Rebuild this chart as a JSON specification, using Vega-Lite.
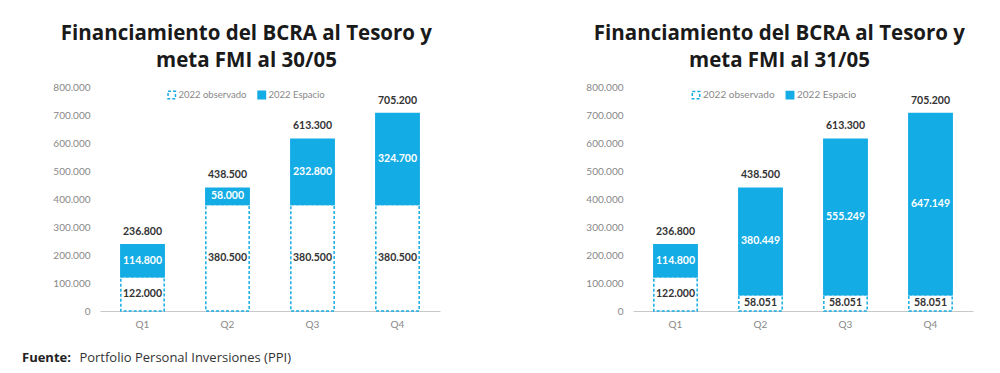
{
  "$schema": "https://vega.github.io/schema/vega-lite/v6.json",
  "padding": {"left": 22, "top": 23, "right": 10, "bottom": 5},
  "background": "white",
  "config": {
    "locale": {"number": {"decimal": ",", "thousands": ".", "grouping": [3], "currency": ["$", ""]}},
    "view": {"stroke": null},
    "font": "Lato",
    "axisY": {"labelOverlap": false, "title": null, "format": ",.0f", "values": [0, 100000, 200000, 300000, 400000, 500000, 600000, 700000, 800000], "grid": false, "ticks": false, "domain": false, "labelColor": "#888888", "labelFontSize": 10, "labelPadding": 10},
    "title": {"font": "Open Sans", "fontSize": 20.5, "fontWeight": "bold", "color": "#1a1a1a", "lineHeight": 27, "frame": "bounds", "anchor": "middle", "offset": 11},
    "concat": {"spacing": 145}
  },
  "resolve": {
    "scale": {"fill": "independent", "stroke": "independent", "strokeDash": "independent"},
    "legend": {"fill": "independent", "stroke": "independent", "strokeDash": "independent"}
  },
  "datasets": {
    "p30": [
      {"q": "Q1", "serie": "2022 observado", "orden": 1, "valor": 122000},
      {"q": "Q1", "serie": "2022 Espacio", "orden": 2, "valor": 114800},
      {"q": "Q2", "serie": "2022 observado", "orden": 1, "valor": 380500},
      {"q": "Q2", "serie": "2022 Espacio", "orden": 2, "valor": 58000},
      {"q": "Q3", "serie": "2022 observado", "orden": 1, "valor": 380500},
      {"q": "Q3", "serie": "2022 Espacio", "orden": 2, "valor": 232800},
      {"q": "Q4", "serie": "2022 observado", "orden": 1, "valor": 380500},
      {"q": "Q4", "serie": "2022 Espacio", "orden": 2, "valor": 324700}
    ],
    "p31": [
      {"q": "Q1", "serie": "2022 observado", "orden": 1, "valor": 122000},
      {"q": "Q1", "serie": "2022 Espacio", "orden": 2, "valor": 114800},
      {"q": "Q2", "serie": "2022 observado", "orden": 1, "valor": 58051},
      {"q": "Q2", "serie": "2022 Espacio", "orden": 2, "valor": 380449},
      {"q": "Q3", "serie": "2022 observado", "orden": 1, "valor": 58051},
      {"q": "Q3", "serie": "2022 Espacio", "orden": 2, "valor": 555249},
      {"q": "Q4", "serie": "2022 observado", "orden": 1, "valor": 58051},
      {"q": "Q4", "serie": "2022 Espacio", "orden": 2, "valor": 647149}
    ]
  },
  "title": {
    "text": "Fuente:",
    "subtitle": "\u200b\u00a0\u00a0\u00a0\u00a0\u00a0\u00a0\u00a0\u00a0\u00a0\u00a0\u00a0\u00a0\u00a0\u00a0\u00a0\u00a0\u00a0Portfolio Personal Inversiones (PPI)",
    "orient": "bottom",
    "anchor": "start",
    "frame": "group",
    "dx": -78,
    "font": "Open Sans",
    "fontSize": 13,
    "fontWeight": "bold",
    "color": "#222222",
    "subtitleFont": "Open Sans",
    "subtitleFontSize": 13,
    "subtitleColor": "#333333",
    "subtitlePadding": -13,
    "offset": 23
  },
  "hconcat": [
    {
      "width": 340,
      "height": 224,
      "title": {"text": ["Financiamiento del BCRA al Tesoro y", "meta FMI al 30/05"]},
      "data": {"name": "p30"},
      "transform": [
        {"stack": "valor", "groupby": ["q"], "sort": [{"field": "orden", "order": "ascending"}], "as": ["v0", "v1"]},
        {"calculate": "(datum.v0 + datum.v1) / 2", "as": "vm"}
      ],
      "encoding": {
        "x": {"field": "q", "type": "nominal", "scale": {"paddingInner": 0.49, "paddingOuter": 0.245},
          "axis": {"title": null, "labelAngle": 0, "ticks": false, "domainColor": "#c8c8c8", "labelColor": "#888888", "labelFontSize": 10, "labelPadding": 8}}
      },
      "layer": [
        {
          "mark": {"type": "bar", "strokeWidth": 1.5},
          "encoding": {
            "y": {"field": "v1", "type": "quantitative", "scale": {"domain": [0, 800000]}},
            "y2": {"field": "v0"},
            "fill": {"field": "serie", "type": "nominal", "scale": {"domain": ["2022 observado", "2022 Espacio"], "range": ["#ffffff", "#14ACE4"]},
              "legend": {"title": null, "orient": "none", "legendX": 67, "legendY": 3, "direction": "horizontal", "symbolType": "square", "symbolSize": 55, "symbolStrokeWidth": 1.5, "labelFontSize": 9.5, "labelColor": "#888888", "columnPadding": 8, "labelOffset": 2}},
            "stroke": {"field": "serie", "type": "nominal", "scale": {"domain": ["2022 observado", "2022 Espacio"], "range": ["#14ACE4", "#14ACE4"]}},
            "strokeDash": {"field": "serie", "type": "nominal", "scale": {"domain": ["2022 observado", "2022 Espacio"], "range": [[3, 2], [1, 0]]}},
            "order": {"field": "orden"}
          }
        },
        {
          "mark": {"type": "text", "fontWeight": "bold", "fontSize": 10.5, "baseline": "middle"},
          "encoding": {
            "y": {"field": "vm", "type": "quantitative"},
            "text": {"field": "valor", "type": "quantitative", "format": ",.0f"},
            "color": {"condition": {"test": "datum.orden == 1", "value": "#333333"}, "value": "#ffffff"}
          }
        },
        {
          "transform": [{"aggregate": [{"op": "sum", "field": "valor", "as": "total"}], "groupby": ["q"]}],
          "mark": {"type": "text", "fontWeight": "bold", "fontSize": 10.5, "baseline": "bottom", "dy": -8, "color": "#333333"},
          "encoding": {
            "y": {"field": "total", "type": "quantitative"},
            "text": {"field": "total", "type": "quantitative", "format": ",.0f"}
          }
        }
      ]
    },
    {
      "width": 340,
      "height": 224,
      "title": {"text": ["Financiamiento del BCRA al Tesoro y", "meta FMI al 31/05"]},
      "data": {"name": "p31"},
      "transform": [
        {"stack": "valor", "groupby": ["q"], "sort": [{"field": "orden", "order": "ascending"}], "as": ["v0", "v1"]},
        {"calculate": "(datum.v0 + datum.v1) / 2", "as": "vm"}
      ],
      "encoding": {
        "x": {"field": "q", "type": "nominal", "scale": {"paddingInner": 0.49, "paddingOuter": 0.245},
          "axis": {"title": null, "labelAngle": 0, "ticks": false, "domainColor": "#c8c8c8", "labelColor": "#888888", "labelFontSize": 10, "labelPadding": 8}}
      },
      "layer": [
        {
          "mark": {"type": "bar", "strokeWidth": 1.5},
          "encoding": {
            "y": {"field": "v1", "type": "quantitative", "scale": {"domain": [0, 800000]}},
            "y2": {"field": "v0"},
            "fill": {"field": "serie", "type": "nominal", "scale": {"domain": ["2022 observado", "2022 Espacio"], "range": ["#ffffff", "#14ACE4"]},
              "legend": {"title": null, "orient": "none", "legendX": 58, "legendY": 3, "direction": "horizontal", "symbolType": "square", "symbolSize": 55, "symbolStrokeWidth": 1.5, "labelFontSize": 10, "labelColor": "#888888", "columnPadding": 8, "labelOffset": 2}},
            "stroke": {"field": "serie", "type": "nominal", "scale": {"domain": ["2022 observado", "2022 Espacio"], "range": ["#14ACE4", "#14ACE4"]}},
            "strokeDash": {"field": "serie", "type": "nominal", "scale": {"domain": ["2022 observado", "2022 Espacio"], "range": [[3, 2], [1, 0]]}},
            "order": {"field": "orden"}
          }
        },
        {
          "mark": {"type": "text", "fontWeight": "bold", "fontSize": 10.5, "baseline": "middle"},
          "encoding": {
            "y": {"field": "vm", "type": "quantitative"},
            "text": {"field": "valor", "type": "quantitative", "format": ",.0f"},
            "color": {"condition": {"test": "datum.orden == 1", "value": "#333333"}, "value": "#ffffff"}
          }
        },
        {
          "transform": [{"aggregate": [{"op": "sum", "field": "valor", "as": "total"}], "groupby": ["q"]}],
          "mark": {"type": "text", "fontWeight": "bold", "fontSize": 10.5, "baseline": "bottom", "dy": -8, "color": "#333333"},
          "encoding": {
            "y": {"field": "total", "type": "quantitative"},
            "text": {"field": "total", "type": "quantitative", "format": ",.0f"}
          }
        }
      ]
    }
  ]
}
